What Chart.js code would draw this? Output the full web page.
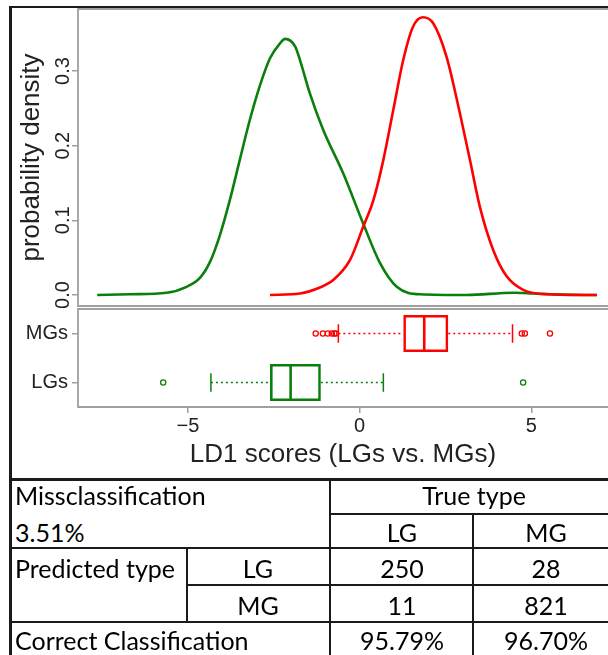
<!DOCTYPE html>
<html>
<head>
<meta charset="utf-8">
<script src="https://cdn.jsdelivr.net/npm/chart.js@4.4.0/dist/chart.umd.min.js"></script>
<style>
html, body { margin: 0; padding: 0; background: #fff; overflow: hidden; }
#wrap { position: relative; width: 608px; height: 655px; overflow: hidden; }
canvas { position: absolute; left: 0; }
#dens { top: 0; }
#box { top: 300px; }
.ln { position: absolute; background: #1a1a1a; }
.tx { position: absolute; font-family: Lato, sans-serif; font-size: 25px; line-height: 25px; color: #000; white-space: nowrap; }
</style>
</head>
<body>
<div id="wrap">
  <canvas id="dens" width="608" height="308"></canvas>
  <canvas id="box" width="608" height="178"></canvas>
</div>
<script>
// axis limits and ticks
const xMin = -8.2, xMax = 7.23;
const ldTicks = [-5, 0, 5];
const densMin = -0.0147, densMax = 0.383;
const densTicks = [0, 0.1, 0.2, 0.3];

// density curves
const mgDensX = [-2.61, -1.74, -1.16, -0.77, -0.28, 0.10, 0.40, 0.69, 0.98, 1.27, 1.55, 1.84, 2.14, 2.53, 2.92, 3.21, 3.50, 3.89, 4.28, 4.76, 5.54, 6.90];
const mgDensY = [0, 0.002, 0.010, 0.020, 0.047, 0.091, 0.127, 0.181, 0.248, 0.315, 0.359, 0.372, 0.364, 0.319, 0.243, 0.181, 0.118, 0.060, 0.025, 0.007, 0.001, 0];
const lgDensX = [-7.64, -6.69, -5.62, -5.04, -4.65, -4.36, -4.07, -3.78, -3.49, -3.20, -2.90, -2.61, -2.32, -2.17, -1.88, -1.74, -1.45, -1.06, -0.48, 0.10, 0.59, 1.08, 1.76, 3.11, 4.47, 5.05, 5.83, 6.91];
const lgDensY = [0, 0.001, 0.003, 0.011, 0.023, 0.044, 0.080, 0.127, 0.181, 0.234, 0.281, 0.317, 0.337, 0.343, 0.333, 0.315, 0.27, 0.221, 0.163, 0.096, 0.043, 0.011, 0.001, 0, 0.003, 0.002, 0.0005, 0];

// boxplot stats (MGs, LGs)
const groups = ['MGs', 'LGs'];
const boxQ1 = [1.27, -2.61];
const boxMed = [1.88, -2.01];
const boxQ3 = [2.58, -1.13];
const whiskLo = [-0.62, -4.33];
const whiskHi = [4.45, 0.69];
const mgOutliers = [-1.28, -1.07, -0.93, -0.81, -0.74, -0.69, 4.72, 4.81, 5.54];
const lgOutliers = [-5.72, 4.76];

// confusion table
const missRate = '3.51%';
const trueTypes = ['LG', 'MG'];
const predTypes = ['LG', 'MG'];
const predLG = ['250', '28'];
const predMG = ['11', '821'];
const correctPct = ['95.79%', '96.70%'];

const red = '#ff0000';
const green = '#0b7f0b';
const groupColors = [red, green];
const frameColor = '#a0a0a0';
const textColor = '#222';
const family = '"Liberation Sans", Arial, sans-serif';

// R-like box around the plot region (right side is cut off)
const framePlugin = {
  id: 'frame',
  beforeDatasetsDraw(chart) {
    const a = chart.chartArea, ctx = chart.ctx;
    ctx.save();
    ctx.strokeStyle = frameColor;
    ctx.lineWidth = 1.8;
    ctx.beginPath();
    ctx.moveTo(a.right + 5, a.top);
    ctx.lineTo(a.left, a.top);
    ctx.lineTo(a.left, a.bottom);
    ctx.lineTo(a.right + 5, a.bottom);
    ctx.stroke();
    ctx.restore();
  }
};

// vertical tick labels on the density axis
const densTickPlugin = {
  id: 'densTicks',
  afterDraw(chart) {
    const s = chart.scales.y, ctx = chart.ctx;
    ctx.save();
    ctx.font = '20px ' + family;
    ctx.fillStyle = textColor;
    ctx.textAlign = 'center';
    ctx.textBaseline = 'alphabetic';
    densTicks.forEach(v => {
      ctx.save();
      ctx.translate(s.right - 9, s.getPixelForValue(v));
      ctx.rotate(-Math.PI / 2);
      ctx.fillText(v.toFixed(1), 0, 0);
      ctx.restore();
    });
    ctx.restore();
  }
};

// fixed axis sizes, no extra label padding
function fitY(s) { s.width = 78; s.paddingTop = 0; s.paddingBottom = 0; }
function fitX(s) { s.height = 71; s.paddingLeft = 0; s.paddingRight = 0; }

new Chart(document.getElementById('dens'), {
  type: 'line',
  data: {
    datasets: [
      { data: mgDensX.map((x, i) => ({ x: x, y: mgDensY[i] })), borderColor: red, borderWidth: 2.6, pointRadius: 0, cubicInterpolationMode: 'monotone', fill: false },
      { data: lgDensX.map((x, i) => ({ x: x, y: lgDensY[i] })), borderColor: green, borderWidth: 2.6, pointRadius: 0, cubicInterpolationMode: 'monotone', fill: false }
    ]
  },
  options: {
    responsive: false,
    animation: false,
    events: [],
    layout: { autoPadding: false, padding: { top: 9, bottom: 2, left: 0, right: 0 } },
    plugins: { legend: { display: false }, tooltip: { enabled: false } },
    scales: {
      x: { type: 'linear', min: xMin, max: xMax, display: false },
      y: {
        type: 'linear', min: densMin, max: densMax,
        afterBuildTicks: s => { s.ticks = densTicks.map(v => ({ value: v })); },
        afterFit: fitY,
        grid: { drawOnChartArea: false, tickLength: 6, color: frameColor, lineWidth: 1.5 },
        border: { display: false },
        ticks: { display: false },
        title: { display: true, text: 'probability density', color: textColor, font: { family: family, size: 26 }, padding: { top: 16, bottom: 0 } }
      }
    }
  },
  plugins: [framePlugin, densTickPlugin]
});

// boxplot built from bars, lines and points
const outliers = [mgOutliers, lgOutliers];
const boxDatasets = [{
  type: 'bar', indexAxis: 'y',
  data: groups.map((g, i) => [boxQ1[i], boxQ3[i]]),
  backgroundColor: 'rgba(0,0,0,0)', borderColor: groupColors, borderWidth: 2.6,
  borderSkipped: false, barPercentage: 0.755, categoryPercentage: 1
}];
groups.forEach((g, i) => {
  [[whiskLo[i], boxQ1[i]], [boxQ3[i], whiskHi[i]]].forEach(seg => {
    boxDatasets.push({ type: 'line', data: seg.map(v => ({ x: v, y: g })), borderColor: groupColors[i], borderWidth: 1.5, borderDash: [2, 3], pointRadius: 0 });
  });
  boxDatasets.push({ type: 'scatter', data: [whiskLo[i], whiskHi[i]].map(v => ({ x: v, y: g })), pointStyle: 'line', pointRotation: 90, pointRadius: 9.3, pointBorderWidth: 1.5, pointBorderColor: groupColors[i], borderColor: groupColors[i] });
  boxDatasets.push({ type: 'scatter', data: [{ x: boxMed[i], y: g }], pointStyle: 'line', pointRotation: 90, pointRadius: 18.5, pointBorderWidth: 2.6, pointBorderColor: groupColors[i], borderColor: groupColors[i] });
  boxDatasets.push({ type: 'scatter', data: outliers[i].map(v => ({ x: v, y: g })), pointStyle: 'circle', pointRadius: 2.6, pointBorderWidth: 1.3, pointBackgroundColor: 'rgba(0,0,0,0)', pointBorderColor: groupColors[i], borderColor: groupColors[i] });
});

new Chart(document.getElementById('box'), {
  type: 'scatter',
  data: { labels: groups, datasets: boxDatasets },
  options: {
    responsive: false,
    animation: false,
    events: [],
    layout: { autoPadding: false, padding: { top: 9, bottom: 0, left: 0, right: 0 } },
    plugins: { legend: { display: false }, tooltip: { enabled: false } },
    scales: {
      x: {
        type: 'linear', min: xMin, max: xMax, offset: false,
        afterBuildTicks: s => { s.ticks = ldTicks.map(v => ({ value: v })); },
        afterFit: fitX,
        grid: { drawOnChartArea: false, tickLength: 6, color: frameColor, lineWidth: 1.5, offset: false },
        border: { display: false },
        ticks: { autoSkip: false, maxRotation: 0, padding: 1, color: textColor, font: { family: family, size: 20 },
          callback: v => v < 0 ? '\u2212' + Math.abs(v) : String(v) },
        title: { display: true, text: 'LD1 scores (LGs vs. MGs)', color: textColor, font: { family: family, size: 26 }, padding: { top: 0, bottom: 8 } }
      },
      y: {
        type: 'category', labels: groups, offset: true,
        afterFit: fitY,
        grid: { drawOnChartArea: false, tickLength: 6, color: frameColor, lineWidth: 1.5, offset: false },
        border: { display: false },
        ticks: { padding: 4, color: textColor, font: { family: family, size: 20 } }
      }
    }
  },
  plugins: [framePlugin]
});

// outer frame and confusion table
const wrap = document.getElementById('wrap');
function rule(l, t, w, h) {
  const d = document.createElement('div');
  d.className = 'ln';
  d.style.left = l + 'px'; d.style.top = t + 'px';
  d.style.width = w + 'px'; d.style.height = h + 'px';
  wrap.appendChild(d);
}
function cell(s, x, base, align) {
  const d = document.createElement('div');
  d.className = 'tx';
  d.textContent = s;
  d.style.top = (base - 22) + 'px';
  if (align === 'left') { d.style.left = x + 'px'; }
  else { d.style.left = (x - 100) + 'px'; d.style.width = '200px'; d.style.textAlign = 'center'; }
  wrap.appendChild(d);
}

rule(9, 6, 610, 2);     // top edge
rule(9, 6, 3, 660);     // left edge
rule(9, 478, 610, 3);   // table top
rule(329, 513, 290, 2);
rule(9, 547, 610, 2);
rule(186, 584, 433, 2);
rule(9, 621, 610, 2);
rule(329, 479, 2, 180);
rule(472, 514, 2, 145);
rule(186, 548, 2, 74);

const colLG = 402, colMG = 546, colPred = 258;
cell('Missclassification', 15, 505, 'left');
cell('True type', 474, 505, 'center');
cell(missRate, 15, 542, 'left');
cell(trueTypes[0], colLG, 542, 'center');
cell(trueTypes[1], colMG, 542, 'center');
cell('Predicted type', 15, 578, 'left');
cell(predTypes[0], colPred, 578, 'center');
cell(predLG[0], colLG, 578, 'center');
cell(predLG[1], colMG, 578, 'center');
cell(predTypes[1], colPred, 615, 'center');
cell(predMG[0], colLG, 615, 'center');
cell(predMG[1], colMG, 615, 'center');
cell('Correct Classification', 15, 650, 'left');
cell(correctPct[0], colLG, 650, 'center');
cell(correctPct[1], colMG, 650, 'center');
</script>
</body>
</html>
